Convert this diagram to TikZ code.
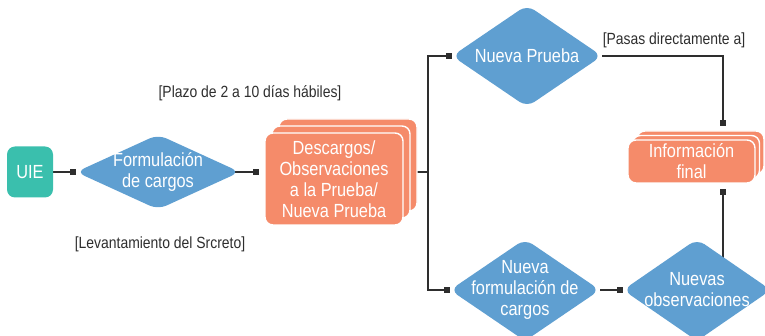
\documentclass[tikz,border=0pt]{standalone}
\usepackage{fontspec}
\setmainfont{Liberation Sans}[FakeStretch=0.86]
\usetikzlibrary{shapes.geometric,arrows.meta,shadows,backgrounds}
\definecolor{uieteal}{HTML}{3ABFAD}
\definecolor{diablue}{HTML}{5F9FD1}
\definecolor{boxorange}{HTML}{F58B6A}
\definecolor{linegray}{HTML}{2E2E2E}
\tikzset{
	txt/.style={text=white, font=\fontsize{19}{21}\selectfont, align=center},
	note/.style={text=linegray, font=\fontsize{16.2}{18}\selectfont},
	dia/.style={diamond, fill=diablue, rounded corners=9pt, inner sep=0pt},
	stack/.style={rectangle, fill=boxorange, draw=white, line width=1.4pt, rounded corners=8pt, txt, inner sep=0pt},
	link/.style={draw=linegray, line width=1.2pt, -{Square[length=6pt,width=6pt]}},
}
\begin{document}
\begin{tikzpicture}[x=1pt, y=-1pt]
	\useasboundingbox (0,0) rectangle (765,336);

	% left part
	\node[txt, fill=uieteal, rounded corners=8pt, minimum width=46pt, minimum height=51pt, inner sep=0pt] (uie) at (30,172) {UIE};
	\node[dia, minimum width=164pt, minimum height=75pt, label={[txt,name=formt]center:Formulación\\de cargos}] (form) at (158,172) {};
	\node[stack, minimum width=138pt, minimum height=92pt,
		copy shadow={shadow xshift=14pt, shadow yshift=14pt, fill=boxorange, draw=white, line width=1.4pt},
		copy shadow={shadow xshift=7pt, shadow yshift=7pt, fill=boxorange, draw=white, line width=1.4pt}]
		(desc) at (334,179) {Descargos/\\Observaciones\\a la Prueba/\\Nueva Prueba};

	% right part
	\node[dia, minimum width=150pt, minimum height=102pt, label={[txt,name=npt]center:Nueva Prueba}] (np) at (527,56) {};
	\node[dia, minimum width=150pt, minimum height=102pt, label={[txt,name=nft]center:Nueva\\formulación de\\cargos}] (nf) at (525,290) {};
	\node[dia, minimum width=148pt, minimum height=102pt, label={[txt,name=nobst]center:Nuevas\\observaciones}] (nobs) at (697,290) {};
	\node[stack, minimum width=127pt, minimum height=43pt,
		copy shadow={shadow xshift=9pt, shadow yshift=9pt, fill=boxorange, draw=white, line width=1.4pt},
		copy shadow={shadow xshift=4.5pt, shadow yshift=4.5pt, fill=boxorange, draw=white, line width=1.4pt}]
		(info) at (691.5,161.5) {Información\\final};

	% notes
	\node[note] (plazo) at (250,93) {[Plazo de 2 a 10 días hábiles]};
	\node[note] (lev) at (160,244) {[Levantamiento del Srcreto]};
	\node[note] (pasas) at (674,40) {[Pasas directamente a]};

	\coordinate (bus) at (428,172);
	\coordinate (infotop) at (723,126);
	\coordinate (infobot) at (723,189);

	\begin{scope}[on background layer]
		\draw[link] (uie) -- (form);
		\draw[link, shorten >=5pt] (form.center) -- (form.center -| desc.west);
		\draw[link, -] (bus -| desc.east) -- (bus);
		\draw[link] (bus) |- (np);
		\draw[link] (bus) |- (nf);
		\draw[link] (np) -| (infotop);
		\draw[link] (nf) -- (nobs);
		\draw[link] (nobs.center -| infobot) -- (infobot);
	\end{scope}
\end{tikzpicture}
\end{document}
